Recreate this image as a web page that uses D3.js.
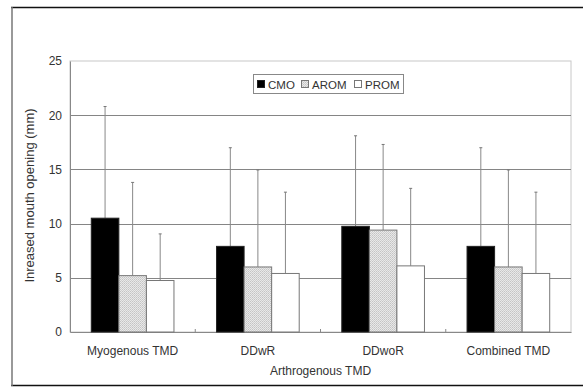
<!DOCTYPE html>
<html>
<head>
<meta charset="utf-8">
<script src="https://cdn.jsdelivr.net/npm/d3@7"></script>
<style>
  body { margin: 0; background: #fff; }
  text { font-family: "Liberation Sans", Arial, sans-serif; fill: #333; }
</style>
</head>
<body>
<div id="chart"></div>
<script>
// data
var groups = ['Myogenous TMD', 'DDwR', 'DDwoR', 'Combined TMD'];
var seriesNames = ['CMO', 'AROM', 'PROM'];
var meanCMO  = [10.5, 7.9, 9.75, 7.9];
var meanAROM = [5.2, 6.0, 9.4, 6.0];
var meanPROM = [4.75, 5.4, 6.1, 5.4];
var topCMO  = [20.8, 17.0, 18.1, 17.0];
var topAROM = [13.8, 14.95, 17.3, 14.95];
var topPROM = [9.05, 12.9, 13.25, 12.9];
var yTicks = [0, 5, 10, 15, 20, 25];

var svgWidth = 583, svgHeight = 387;
var margin = {top: 61, right: 12, bottom: 55, left: 70};

var svg = d3.select('#chart').append('svg')
  .attr('width', svgWidth)
  .attr('height', svgHeight);

var width = 571 - margin.left,
    height = 332 - margin.top;

// pattern for the dotted grey bars
var defs = svg.append('defs');
var pat = defs.append('pattern')
  .attr('id', 'dots')
  .attr('width', 2).attr('height', 2)
  .attr('patternUnits', 'userSpaceOnUse');
pat.append('rect').attr('width', 2).attr('height', 2).attr('fill', '#e8e8e8');
pat.append('rect').attr('width', 1).attr('height', 1).attr('fill', '#c4c4c4');
pat.append('rect').attr('x', 1).attr('y', 1).attr('width', 1).attr('height', 1).attr('fill', '#cfcfcf');

var fills = ['#000', 'url(#dots)', '#fff'];
var strokes = ['#222', '#777', '#777'];

// outer frame
svg.append('line').attr('x1', 11).attr('x2', 583).attr('y1', 7.5).attr('y2', 7.5)
  .attr('stroke', '#111').attr('stroke-width', 1.5);
svg.append('line').attr('x1', 11).attr('x2', 583).attr('y1', 385.5).attr('y2', 385.5)
  .attr('stroke', '#111').attr('stroke-width', 1.5);
svg.append('line').attr('x1', 12).attr('x2', 12).attr('y1', 7).attr('y2', 386)
  .attr('stroke', '#777').attr('stroke-width', 1.5);

var g = svg.append('g')
  .attr('transform', 'translate(' + margin.left + ',' + margin.top + ')');

var x0 = d3.scaleBand().domain(groups).range([0, width]).paddingInner(0.34).paddingOuter(0.17);
var x1 = d3.scaleBand().domain(seriesNames).range([0, x0.bandwidth()]);
var y = d3.scaleLinear().domain([0, 25]).range([height, 0]);
var xGroup = d3.scaleBand().domain(groups).range([0, width]);

// plot area border (top / right)
g.append('rect').attr('x', 0).attr('y', 0).attr('width', width).attr('height', height)
  .attr('fill', 'none').attr('stroke', '#c8c8c8');

// gridlines
g.append('g').selectAll('line')
  .data(yTicks.filter(function(d) { return d > 0 && d < 25; }))
  .enter().append('line')
  .attr('x1', 0).attr('x2', width)
  .attr('y1', function(d) { return Math.round(y(d)) + 0.5; })
  .attr('y2', function(d) { return Math.round(y(d)) + 0.5; })
  .attr('stroke', '#858585');

// y axis
var yAxis = g.append('g')
  .call(d3.axisLeft(y).tickValues(yTicks).tickSize(0).tickPadding(8));
yAxis.select('.domain').attr('stroke', '#888');
yAxis.selectAll('text').style('font-size', '12px').attr('fill', '#333');

// x axis
var xAxis = g.append('g')
  .attr('transform', 'translate(0,' + height + ')')
  .call(d3.axisBottom(xGroup).tickSize(0).tickPadding(14));
xAxis.select('.domain').attr('stroke', '#888');
xAxis.selectAll('text').style('font-size', '12px').attr('fill', '#333');

// small inner ticks at group boundaries
g.append('g').selectAll('line')
  .data(groups.slice(1))
  .enter().append('line')
  .attr('x1', function(d) { return xGroup(d); })
  .attr('x2', function(d) { return xGroup(d); })
  .attr('y1', height).attr('y2', height - 3)
  .attr('stroke', '#888');

// bars
var means = [meanCMO, meanAROM, meanPROM];
var tops = [topCMO, topAROM, topPROM];
var rows = [];
seriesNames.forEach(function(s, si) {
  groups.forEach(function(gname, gi) {
    rows.push({group: gname, series: s, si: si, mean: means[si][gi], top: tops[si][gi]});
  });
});

// error bars (upper only)
var err = g.append('g');
err.selectAll('line.eb').data(rows).enter().append('line')
  .attr('class', 'eb')
  .attr('x1', function(d) { return x0(d.group) + x1(d.series) + x1.bandwidth() / 2; })
  .attr('x2', function(d) { return x0(d.group) + x1(d.series) + x1.bandwidth() / 2; })
  .attr('y1', function(d) { return y(d.mean); })
  .attr('y2', function(d) { return y(d.top); })
  .attr('stroke', '#888');
err.selectAll('line.cap').data(rows).enter().append('line')
  .attr('class', 'cap')
  .attr('x1', function(d) { return x0(d.group) + x1(d.series) + x1.bandwidth() / 2 - 1.5; })
  .attr('x2', function(d) { return x0(d.group) + x1(d.series) + x1.bandwidth() / 2 + 1.5; })
  .attr('y1', function(d) { return y(d.top); })
  .attr('y2', function(d) { return y(d.top); })
  .attr('stroke', '#777');

g.append('g').selectAll('rect').data(rows).enter().append('rect')
  .attr('x', function(d) { return x0(d.group) + x1(d.series); })
  .attr('y', function(d) { return y(d.mean); })
  .attr('width', x1.bandwidth())
  .attr('height', function(d) { return height - y(d.mean); })
  .attr('fill', function(d) { return fills[d.si]; })
  .attr('stroke', function(d) { return strokes[d.si]; })
  .attr('stroke-width', 1);

// axis titles
svg.append('text')
  .attr('transform', 'translate(34,' + (margin.top + height / 2 - 1) + ') rotate(-90)')
  .attr('text-anchor', 'middle')
  .style('font-size', '13px')
  .attr('fill', '#222')
  .text('Inreased mouth opening (mm)');
svg.append('text')
  .attr('x', margin.left + width / 2)
  .attr('y', 375)
  .attr('text-anchor', 'middle')
  .style('font-size', '12px')
  .text('Arthrogenous TMD');

// legend
var legend = svg.append('g').attr('transform', 'translate(253,74)');
legend.append('rect').attr('x', 0.5).attr('y', 0.5).attr('width', 150).attr('height', 19)
  .attr('fill', '#fff').attr('stroke', '#888');
var legX = [4, 48, 101];
seriesNames.forEach(function(s, i) {
  legend.append('rect')
    .attr('x', legX[i] + 0.5).attr('y', 6.5).attr('width', 7).attr('height', 7)
    .attr('fill', fills[i]).attr('stroke', strokes[i]);
  legend.append('text')
    .attr('x', legX[i] + 11).attr('y', 14.5)
    .style('font-size', '11.5px')
    .attr('fill', '#222')
    .text(s);
});
</script>
</body>
</html>
